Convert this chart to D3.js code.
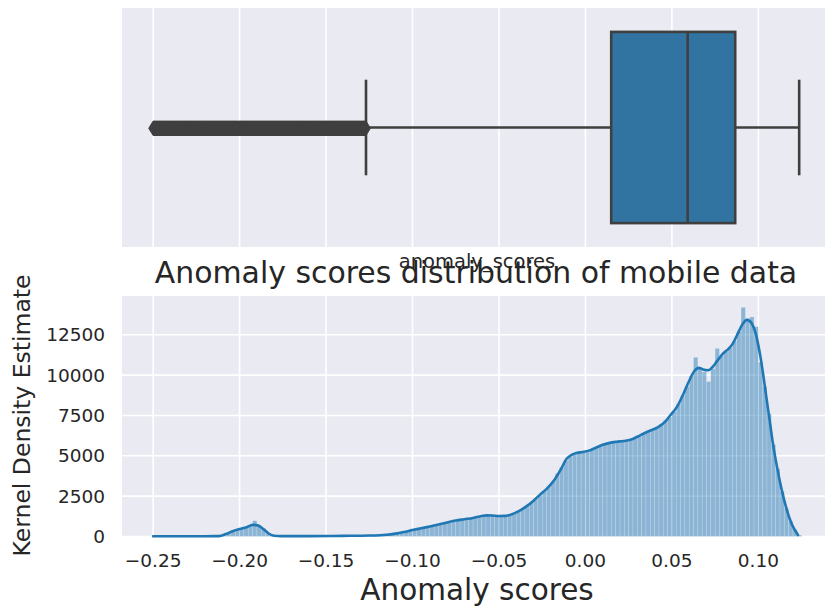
<!DOCTYPE html>
<html>
<head>
<meta charset="utf-8">
<script src="https://cdn.jsdelivr.net/npm/d3@7"></script>
<style>
  html, body { margin: 0; padding: 0; background: #ffffff; }
  svg { display: block; font-family: "DejaVu Sans", sans-serif; }
</style>
</head>
<body>
<svg id="chart" width="825" height="611"></svg>
<script>
// ---- data ----
// histogram bins of width 0.0025 starting at -0.25
const binStart = -0.25;
const binWidth = 0.0025;
const histCounts = [
  15, 12, 14, 16, 18, 20, 22, 24, 25, 26, 27, 28, 28, 30, 35, 60, 150, 250, 350, 420,
  480, 560, 620, 980, 640, 470, 250, 90, 40, 25, 24, 24, 25, 25, 26, 27, 28, 30, 32, 34,
  36, 38, 40, 42, 44, 46, 48, 50, 52, 55, 58, 62, 70, 85, 120, 170, 230, 290, 340, 390,
  440, 490, 540, 580, 630, 680, 740, 800, 870, 930, 990, 1030, 1060, 1100, 1150, 1200, 1310, 1330, 1300, 1280,
  1270, 1280, 1320, 1420, 1560, 1720, 1900, 2120, 2350, 2550, 2800, 3100, 3400, 3900, 4300, 4700, 4950, 5100, 5180, 5250,
  5320, 5420, 5510, 5610, 5720, 5790, 5840, 5880, 5910, 5950, 6000, 6120, 6200, 6380, 6520, 6620, 6740, 6950, 7200, 7400,
  7750, 8200, 8750, 9300, 9950, 11100, 10500, 10200, 9600, 10400, 11650, 11200, 11450, 11700, 12100, 12700, 14200, 13500, 13600, 13000,
  10800, 9300, 7600, 5700, 4200, 2800, 1750, 950, 420, 90
];

// kernel density estimate (scaled to counts)
const kdeX = [
  -0.250, -0.235, -0.220, -0.212, -0.208, -0.204, -0.200, -0.196, -0.192, -0.1895,
  -0.186, -0.183, -0.180, -0.176, -0.160, -0.140, -0.125, -0.115, -0.110, -0.105,
  -0.100, -0.095, -0.090, -0.085, -0.080, -0.075, -0.070, -0.065, -0.060, -0.057,
  -0.054, -0.050, -0.046, -0.042, -0.038, -0.034, -0.030, -0.026, -0.022, -0.018,
  -0.014, -0.011, -0.008, -0.005, -0.002, 0.002, 0.006, 0.010, 0.014, 0.018,
  0.022, 0.026, 0.030, 0.034, 0.038, 0.042, 0.046, 0.049, 0.053, 0.0565,
  0.060, 0.063, 0.0655, 0.068, 0.071, 0.0735, 0.076, 0.0795, 0.083, 0.0855,
  0.088, 0.091, 0.0935, 0.096, 0.0985, 0.1007, 0.1027, 0.1046, 0.1065, 0.1084,
  0.1104, 0.1133, 0.1162, 0.1191, 0.1229
];
const kdeY = [
  15, 15, 18, 25, 150, 330, 460, 580, 720, 690,
  440, 170, 45, 25, 25, 40, 60, 110, 180, 280,
  400, 510, 620, 740, 870, 990, 1070, 1150, 1270, 1310,
  1300, 1270, 1280, 1400, 1600, 1880, 2220, 2620, 3000, 3500,
  4200, 4800, 5050, 5170, 5230, 5320, 5500, 5680, 5800, 5870,
  5920, 5990, 6180, 6400, 6580, 6780, 7100, 7500, 8050, 8800,
  9650, 10250, 10450, 10350, 10300, 10500, 10850, 11330, 11650, 12000,
  12550, 13180, 13420, 13230, 12550, 11440, 10100, 8650, 7210, 5770,
  4530, 2980, 1745, 815, 90
];

// five-number summary of the box
const boxStats = { whiskerLow: -0.1269, q1: 0.0149, median: 0.0591, q3: 0.0866, whiskerHigh: 0.1236 };
const minScore = -0.2500;

const xTicks = [-0.25, -0.20, -0.15, -0.10, -0.05, 0.00, 0.05, 0.10];
const yTicks = [0, 2500, 5000, 7500, 10000, 12500];

const titleText = "Anomaly scores distribution of mobile data";
const boxLabel = "anomaly_scores";
const xLabel = "Anomaly scores";
const yLabel = "Kernel Density Estimate";

// ---- layout ----
const svg = d3.select("#chart");
const plotLeft = 122, plotRight = 831;
const top1 = 8, bottom1 = 247;
const top2 = 296, bottom2 = 536.5;
const bg = "#eaeaf2", textColor = "#262626", lineGray = "#3f3f3f";
const blue = "#1f77b4", boxBlue = "#3274a1";

const x = d3.scaleLinear().domain([-0.268, 0.142]).range([plotLeft, plotRight]);
const yBox = d3.scaleLinear().domain([-0.5, 0.5]).range([bottom1, top1]);
const y = d3.scaleLinear().domain([0, 14900]).range([bottom2, top2]);

const fmtX = v => d3.format(".2f")(v).replace("-", "\u2212");

// ---- top panel: box plot ----
const g1 = svg.append("g");
g1.append("rect").attr("x", plotLeft).attr("y", top1)
  .attr("width", plotRight - plotLeft).attr("height", bottom1 - top1).attr("fill", bg);
g1.selectAll("line.grid").data(xTicks).join("line")
  .attr("x1", d => x(d)).attr("x2", d => x(d))
  .attr("y1", top1).attr("y2", bottom1)
  .attr("stroke", "#ffffff").attr("stroke-width", 1.6);

const boxHalf = 0.4, capHalf = 0.2;
const lw = 2.6;
// whisker lines
g1.append("line").attr("x1", x(boxStats.whiskerLow)).attr("x2", x(boxStats.q1))
  .attr("y1", yBox(0)).attr("y2", yBox(0)).attr("stroke", lineGray).attr("stroke-width", lw);
g1.append("line").attr("x1", x(boxStats.q3)).attr("x2", x(boxStats.whiskerHigh))
  .attr("y1", yBox(0)).attr("y2", yBox(0)).attr("stroke", lineGray).attr("stroke-width", lw);
// caps
[boxStats.whiskerLow, boxStats.whiskerHigh].forEach(v => {
  g1.append("line").attr("x1", x(v)).attr("x2", x(v))
    .attr("y1", yBox(capHalf)).attr("y2", yBox(-capHalf))
    .attr("stroke", lineGray).attr("stroke-width", lw);
});
// box
g1.append("rect").attr("x", x(boxStats.q1)).attr("y", yBox(boxHalf))
  .attr("width", x(boxStats.q3) - x(boxStats.q1)).attr("height", yBox(-boxHalf) - yBox(boxHalf))
  .attr("fill", boxBlue).attr("stroke", lineGray).attr("stroke-width", lw);
g1.append("line").attr("x1", x(boxStats.median)).attr("x2", x(boxStats.median))
  .attr("y1", yBox(boxHalf)).attr("y2", yBox(-boxHalf))
  .attr("stroke", lineGray).attr("stroke-width", lw);

// outliers below the lower whisker: the diamond markers of every populated
// bin overlap, so each bin is drawn as its run of diamonds merged into one shape
const flierBins = histCounts
  .map((c, i) => ({ c, lo: binStart + i * binWidth, hi: binStart + (i + 1) * binWidth }))
  .filter(d => d.c > 0 && d.lo < boxStats.whiskerLow)
  .map(d => ({ lo: Math.max(d.lo, minScore), hi: Math.min(d.hi, boxStats.whiskerLow) }));
const dh = 7.2, dw = 4.4;
const cy = yBox(0) + 0.8;
g1.selectAll("path.flier").data(flierBins).join("path")
  .attr("d", d => {
    const x0 = x(d.lo), x1 = x(d.hi);
    return `M${x0 - dw},${cy} L${x0},${cy - dh} L${x1},${cy - dh} L${x1 + dw},${cy} L${x1},${cy + dh} L${x0},${cy + dh} Z`;
  })
  .attr("fill", lineGray).attr("stroke", lineGray).attr("stroke-width", 1)
  .attr("stroke-linejoin", "round");

// box plot axis label
svg.append("text").attr("x", 477).attr("y", 268).attr("text-anchor", "middle")
  .attr("font-size", 19.5).attr("fill", textColor).text(boxLabel);

// ---- bottom panel: histogram + KDE ----
const g2 = svg.append("g");
g2.append("rect").attr("x", plotLeft).attr("y", top2)
  .attr("width", plotRight - plotLeft).attr("height", bottom2 - top2).attr("fill", bg);
g2.selectAll("line.vgrid").data(xTicks).join("line")
  .attr("x1", d => x(d)).attr("x2", d => x(d))
  .attr("y1", top2).attr("y2", bottom2)
  .attr("stroke", "#ffffff").attr("stroke-width", 1.6);
g2.selectAll("line.hgrid").data(yTicks).join("line")
  .attr("x1", plotLeft).attr("x2", plotRight)
  .attr("y1", d => y(d)).attr("y2", d => y(d))
  .attr("stroke", "#ffffff").attr("stroke-width", 1.6);

g2.selectAll("rect.bar").data(histCounts).join("rect")
  .attr("x", (c, i) => x(binStart + i * binWidth))
  .attr("width", (c, i) => x(binStart + (i + 1) * binWidth) - x(binStart + i * binWidth))
  .attr("y", c => y(c))
  .attr("height", c => y(0) - y(c))
  .attr("fill", blue).attr("fill-opacity", 0.47)
  .attr("stroke", "#ffffff").attr("stroke-opacity", 0.35).attr("stroke-width", 0.5);

const kdeLine = d3.line()
  .x((d, i) => x(kdeX[i]))
  .y(d => y(d))
  .curve(d3.curveMonotoneX);
g2.append("path").datum(kdeY).attr("d", kdeLine)
  .attr("fill", "none").attr("stroke", blue).attr("stroke-width", 2.6)
  .attr("stroke-linejoin", "round").attr("stroke-linecap", "round");

// ticks
g2.selectAll("text.xt").data(xTicks).join("text")
  .attr("x", d => x(d)).attr("y", 567).attr("text-anchor", "middle")
  .attr("font-size", 18.5).attr("fill", textColor).text(fmtX);
g2.selectAll("text.yt").data(yTicks).join("text")
  .attr("x", 105).attr("y", d => y(d)).attr("dy", "0.36em").attr("text-anchor", "end")
  .attr("font-size", 18.5).attr("fill", textColor).text(d => String(d));

// labels and title
svg.append("text").attr("x", 477).attr("y", 600).attr("text-anchor", "middle")
  .attr("font-size", 29.5).attr("fill", textColor).text(xLabel);
svg.append("text").attr("transform", "translate(30,415.5) rotate(-90)")
  .attr("text-anchor", "middle").attr("font-size", 23.5).attr("fill", textColor).text(yLabel);
svg.append("text").attr("x", 476).attr("y", 283).attr("text-anchor", "middle")
  .attr("font-size", 29.9).attr("fill", textColor).text(titleText);
</script>
</body>
</html>
